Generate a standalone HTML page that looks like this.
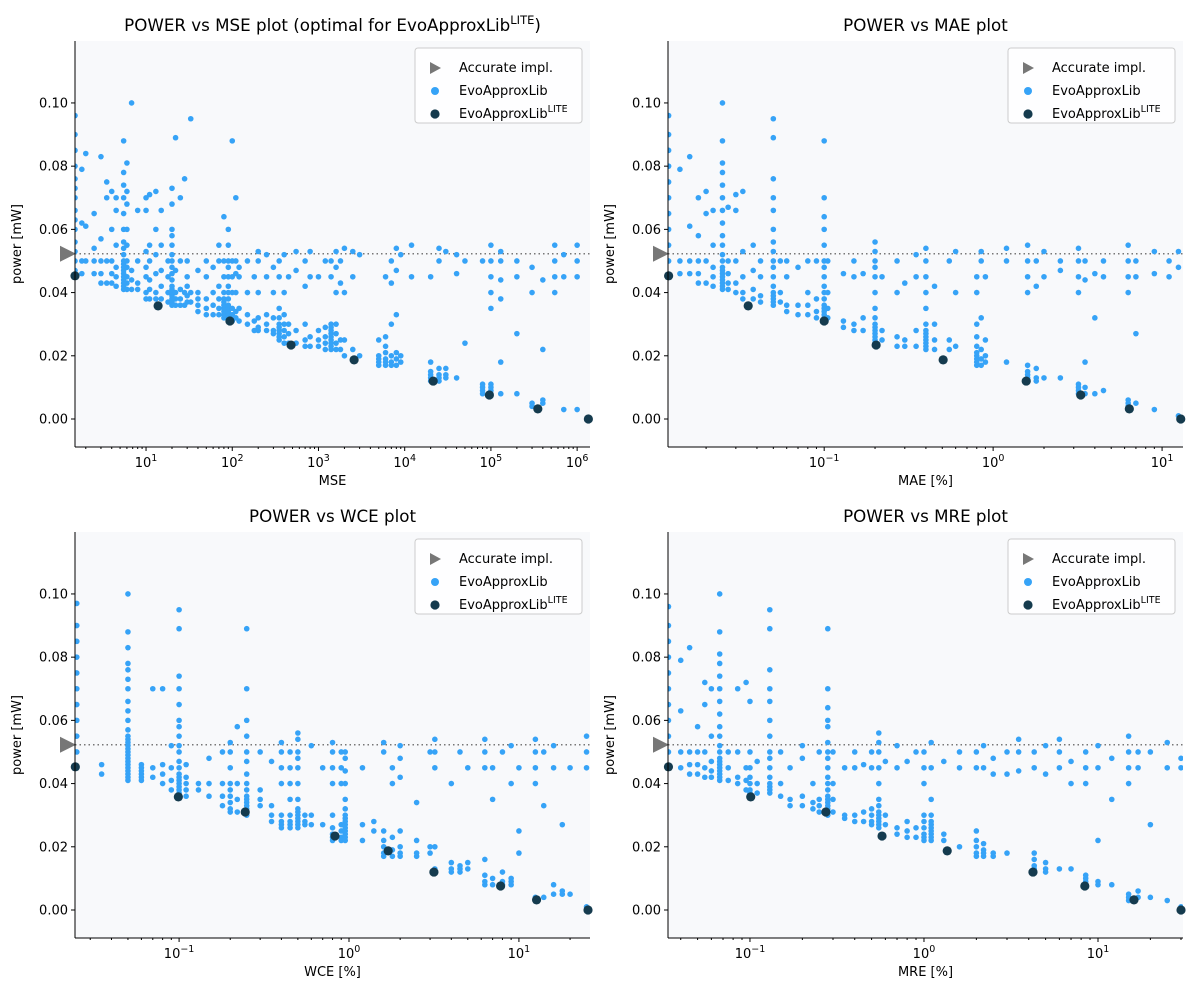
<!DOCTYPE html>
<html><head><meta charset="utf-8">
<style>
body{margin:0;background:#fff;}
svg text{font-family:"DejaVu Sans","Liberation Sans",sans-serif;fill:#000;}
</style></head>
<body>
<svg id="chart" width="1200" height="1000" xmlns="http://www.w3.org/2000/svg"></svg>
<script>
// ---- data (y in mW) ----
const accuratePower = 0.0523;
const yTicks = [0.00, 0.02, 0.04, 0.06, 0.08, 0.10];

const blueMSE = [[1.5,[0.045,0.047,0.05,0.053,0.056,0.06,0.063,0.066,0.07,0.073,0.076,0.08,0.085,0.09,0.096]],[1.8,[0.046,0.05,0.062,0.079]],[2,[0.05,0.084,0.061]],[2.5,[0.046,0.05,0.054,0.065]],[3,[0.043,0.046,0.05,0.057,0.083]],[3.5,[0.043,0.05,0.07,0.075]],[4,[0.043,0.046,0.05,0.06,0.072]],[4.5,[0.042,0.045,0.048,0.055,0.066,0.07]],[5.5,[0.041,0.042,0.043,0.044,0.045,0.046,0.047,0.048,0.049,0.05,0.052,0.054,0.056,0.06,0.065,0.07,0.074,0.078,0.088]],[6,[0.041,0.043,0.045,0.048,0.05,0.055,0.06,0.068,0.072,0.081]],[6.8,[0.041,0.044,0.047,0.1]],[8,[0.041,0.043,0.05,0.066]],[10,[0.038,0.04,0.045,0.048,0.053,0.066,0.07]],[11,[0.038,0.041,0.044,0.05,0.055,0.071]],[13,[0.038,0.04,0.046,0.052,0.06,0.072]],[15,[0.038,0.042,0.047,0.055,0.066]],[18,[0.037,0.04,0.045,0.05]],[20,[0.036,0.037,0.038,0.039,0.04,0.041,0.042,0.044,0.046,0.048,0.05,0.052,0.055,0.058,0.06,0.068,0.073]],[22,[0.036,0.038,0.04,0.047,0.089]],[25,[0.036,0.038,0.041,0.05,0.07]],[28,[0.036,0.04,0.076]],[30,[0.037,0.039,0.042,0.045,0.05]],[33,[0.037,0.04,0.095]],[40,[0.034,0.036,0.038,0.04,0.047]],[50,[0.033,0.035,0.038,0.045,0.05]],[60,[0.033,0.036,0.04,0.048]],[70,[0.033,0.035,0.038,0.042,0.05,0.055]],[80,[0.032,0.033,0.034,0.035,0.036,0.037,0.038,0.04,0.045,0.05,0.064]],[90,[0.031,0.032,0.033,0.034,0.035,0.036,0.038,0.04,0.042,0.045,0.048,0.05,0.055,0.06]],[100,[0.031,0.033,0.035,0.04,0.045,0.05,0.088]],[110,[0.032,0.034,0.04,0.046,0.05,0.07]],[120,[0.031,0.035,0.045,0.048]],[150,[0.03,0.033,0.04,0.05]],[180,[0.028,0.031,0.045]],[200,[0.028,0.029,0.032,0.04,0.05,0.053]],[250,[0.028,0.03,0.033,0.045,0.052]],[300,[0.027,0.028,0.032,0.04,0.048]],[350,[0.025,0.026,0.027,0.028,0.029,0.03,0.032,0.035,0.045,0.05]],[400,[0.024,0.026,0.028,0.03,0.033,0.04,0.052]],[450,[0.024,0.027,0.03,0.045]],[550,[0.024,0.028,0.047,0.053]],[700,[0.023,0.025,0.03,0.042,0.05]],[800,[0.023,0.026,0.045,0.053]],[1000,[0.023,0.025,0.028,0.045]],[1200,[0.022,0.024,0.026,0.029,0.05]],[1400,[0.022,0.023,0.024,0.025,0.026,0.027,0.028,0.029,0.03,0.045,0.05]],[1600,[0.022,0.024,0.027,0.03,0.04,0.048,0.053]],[1800,[0.022,0.025,0.043,0.05]],[2000,[0.02,0.025,0.04,0.054]],[2500,[0.019,0.022,0.045,0.053]],[3000,[0.02,0.052]],[5000,[0.017,0.018,0.019,0.02,0.025]],[6000,[0.017,0.018,0.019,0.021,0.023,0.026,0.045]],[7000,[0.017,0.018,0.02,0.03,0.043,0.05]],[8000,[0.017,0.019,0.021,0.033,0.047,0.054]],[9000,[0.018,0.02,0.052]],[12000,[0.045,0.055]],[20000,[0.012,0.013,0.014,0.015,0.018,0.045]],[25000,[0.012,0.013,0.014,0.016,0.05,0.054]],[30000,[0.013,0.014,0.016,0.053]],[40000,[0.013,0.046,0.052]],[50000,[0.024,0.05]],[80000,[0.008,0.009,0.01,0.011,0.05]],[100000,[0.008,0.009,0.01,0.011,0.035,0.04,0.045,0.05,0.055]],[130000,[0.008,0.018,0.038,0.044,0.05,0.053]],[200000,[0.008,0.027,0.045,0.05]],[300000,[0.004,0.005,0.04,0.048]],[400000,[0.005,0.006,0.022,0.044]],[550000,[0.04,0.045,0.05,0.055]],[700000,[0.003,0.045,0.052]],[1000000,[0.045,0.05,0.055,0.003]]];
const liteMSE = [[1.5,0.0453],[13.8,0.0358],[94,0.031],[481,0.0234],[2590,0.0187],[21400,0.012],[96000,0.0076],[350000,0.0032],[1350000,0]];

const blueMAE = [[0.012,[0.045,0.05,0.055,0.06,0.065,0.07,0.075,0.08,0.085,0.09,0.096]],[0.014,[0.046,0.05,0.079]],[0.016,[0.046,0.05,0.061,0.083]],[0.018,[0.043,0.046,0.05,0.058,0.07]],[0.02,[0.043,0.05,0.065,0.072]],[0.022,[0.042,0.045,0.048,0.055,0.066]],[0.025,[0.041,0.042,0.043,0.044,0.045,0.046,0.047,0.048,0.05,0.052,0.055,0.058,0.062,0.066,0.07,0.074,0.078,0.081,0.088,0.1]],[0.027,[0.041,0.043,0.046,0.05,0.067]],[0.03,[0.04,0.043,0.05,0.066,0.071]],[0.033,[0.038,0.04,0.045,0.053,0.072]],[0.038,[0.038,0.041,0.047,0.055]],[0.042,[0.037,0.039,0.045,0.05]],[0.05,[0.036,0.037,0.038,0.039,0.04,0.042,0.045,0.048,0.05,0.053,0.056,0.06,0.066,0.07,0.076,0.089,0.095]],[0.055,[0.037,0.04,0.05]],[0.06,[0.034,0.036,0.045,0.05]],[0.07,[0.033,0.036,0.048]],[0.08,[0.033,0.036,0.04,0.05]],[0.09,[0.032,0.034,0.038,0.05]],[0.1,[0.031,0.032,0.033,0.034,0.035,0.036,0.038,0.04,0.042,0.045,0.048,0.05,0.055,0.06,0.064,0.07,0.088]],[0.105,[0.032,0.035,0.04,0.05]],[0.13,[0.029,0.031,0.046]],[0.15,[0.028,0.03,0.045,0.05]],[0.17,[0.028,0.032,0.046]],[0.2,[0.024,0.025,0.026,0.027,0.028,0.029,0.03,0.032,0.035,0.04,0.045,0.048,0.05,0.053,0.056]],[0.22,[0.025,0.028,0.045]],[0.27,[0.023,0.026,0.04,0.05]],[0.3,[0.023,0.025,0.043]],[0.35,[0.023,0.028,0.045,0.052]],[0.4,[0.022,0.023,0.024,0.025,0.026,0.027,0.028,0.03,0.035,0.04,0.045,0.05,0.054]],[0.45,[0.022,0.025,0.03,0.042]],[0.55,[0.022,0.025,0.05]],[0.6,[0.023,0.04,0.053]],[0.8,[0.017,0.018,0.019,0.02,0.021,0.023,0.026,0.03,0.04,0.045]],[0.85,[0.017,0.019,0.022,0.032,0.05,0.053]],[0.9,[0.018,0.02,0.025,0.045]],[1.2,[0.018,0.05,0.054]],[1.6,[0.012,0.013,0.014,0.015,0.017,0.04,0.045,0.05,0.055]],[1.8,[0.012,0.013,0.016,0.042,0.05]],[2,[0.013,0.045,0.053]],[2.5,[0.013,0.047,0.05]],[3.2,[0.008,0.009,0.01,0.011,0.04,0.045,0.05,0.054]],[3.5,[0.008,0.01,0.018,0.044,0.05]],[4,[0.008,0.032,0.046]],[4.5,[0.009,0.045,0.05]],[6.3,[0.003,0.004,0.005,0.006,0.04,0.045,0.05,0.055]],[7,[0.005,0.027,0.045,0.05]],[9,[0.003,0.046,0.053]],[11,[0.045,0.05]],[12.5,[0.001,0.048,0.053]]];
const liteMAE = [[0.012,0.0453],[0.0355,0.0358],[0.1,0.031],[0.203,0.0234],[0.506,0.0187],[1.57,0.012],[3.3,0.0076],[6.4,0.0032],[12.9,0]];

const blueWCE = [[0.025,[0.045,0.05,0.055,0.06,0.065,0.07,0.075,0.08,0.085,0.09,0.097]],[0.035,[0.043,0.046]],[0.05,[0.041,0.042,0.043,0.044,0.045,0.046,0.047,0.048,0.049,0.05,0.051,0.052,0.053,0.054,0.055,0.057,0.06,0.063,0.066,0.07,0.073,0.076,0.078,0.083,0.088,0.1]],[0.06,[0.041,0.042,0.043,0.044,0.045,0.046]],[0.07,[0.042,0.045,0.07]],[0.08,[0.04,0.043,0.046,0.07]],[0.09,[0.038,0.041,0.045,0.052]],[0.1,[0.036,0.037,0.038,0.039,0.04,0.041,0.042,0.043,0.045,0.047,0.05,0.052,0.055,0.058,0.06,0.065,0.07,0.074,0.089,0.095]],[0.11,[0.036,0.038,0.04,0.042,0.046]],[0.13,[0.038,0.04]],[0.15,[0.036,0.04,0.048]],[0.18,[0.033,0.036,0.04,0.05]],[0.2,[0.031,0.032,0.034,0.036,0.038,0.04,0.045,0.05,0.053]],[0.22,[0.031,0.035,0.04,0.058]],[0.25,[0.03,0.031,0.032,0.033,0.034,0.035,0.036,0.038,0.04,0.043,0.047,0.05,0.055,0.06,0.07,0.089]],[0.3,[0.033,0.035,0.038,0.05]],[0.35,[0.028,0.03,0.033,0.047]],[0.4,[0.026,0.027,0.028,0.03,0.04,0.045,0.05,0.053]],[0.45,[0.026,0.027,0.028,0.03,0.035,0.04,0.045,0.05]],[0.5,[0.026,0.027,0.028,0.029,0.03,0.031,0.032,0.035,0.04,0.045,0.048,0.05,0.054,0.056]],[0.55,[0.027,0.028,0.03]],[0.6,[0.027,0.03,0.052]],[0.7,[0.027,0.045]],[0.8,[0.022,0.023,0.024,0.026,0.03,0.04,0.045,0.05,0.053]],[0.9,[0.022,0.023,0.025,0.027,0.04,0.045,0.05]],[0.95,[0.022,0.023,0.024,0.025,0.026,0.027,0.028,0.029,0.03,0.032,0.035,0.04,0.044,0.048,0.05]],[1.2,[0.022,0.027,0.045]],[1.4,[0.025,0.028]],[1.6,[0.017,0.018,0.02,0.022,0.025,0.05,0.053]],[1.8,[0.017,0.019,0.023,0.04,0.045]],[2,[0.017,0.018,0.02,0.025,0.042,0.048,0.052]],[2.5,[0.017,0.018,0.022,0.034]],[3,[0.018,0.02,0.05]],[3.2,[0.012,0.013,0.02,0.045,0.05,0.054]],[4,[0.012,0.013,0.015,0.04]],[4.5,[0.012,0.013,0.014,0.05]],[5,[0.013,0.015,0.045]],[6.3,[0.008,0.009,0.011,0.016,0.045,0.05,0.054]],[7,[0.008,0.01,0.035,0.045]],[8,[0.008,0.009,0.012,0.05]],[9,[0.008,0.009,0.01,0.04,0.052]],[10,[0.018,0.025,0.045]],[12.5,[0.003,0.004,0.04,0.045,0.05,0.054]],[14,[0.004,0.033,0.05]],[16,[0.005,0.008,0.045,0.052]],[18,[0.005,0.006,0.027]],[20,[0.005,0.045]],[25,[0.001,0.045,0.05,0.055]]];
const liteWCE = [[0.0245,0.0453],[0.099,0.0358],[0.245,0.031],[0.827,0.0234],[1.7,0.0187],[3.16,0.012],[7.8,0.0076],[12.7,0.0032],[25.5,0]];

const blueMRE = [[0.034,[0.045,0.05,0.055,0.06,0.065,0.07,0.075,0.08,0.085,0.09,0.096]],[0.04,[0.045,0.05,0.063,0.079]],[0.045,[0.043,0.046,0.05,0.083]],[0.05,[0.043,0.046,0.05,0.058]],[0.055,[0.042,0.045,0.05,0.065,0.072]],[0.06,[0.042,0.044,0.047,0.055,0.07]],[0.067,[0.041,0.042,0.043,0.044,0.045,0.046,0.047,0.048,0.05,0.052,0.055,0.058,0.062,0.066,0.07,0.074,0.078,0.081,0.088,0.1]],[0.075,[0.041,0.045,0.05]],[0.085,[0.04,0.042,0.05,0.07]],[0.095,[0.038,0.041,0.045,0.072]],[0.1,[0.037,0.038,0.04,0.042,0.045,0.05,0.066]],[0.11,[0.037,0.04,0.047]],[0.13,[0.037,0.038,0.039,0.04,0.042,0.045,0.048,0.05,0.055,0.06,0.066,0.07,0.076,0.089,0.095]],[0.15,[0.036,0.04,0.05]],[0.17,[0.033,0.035,0.045]],[0.2,[0.033,0.036,0.048,0.052]],[0.23,[0.032,0.034,0.04]],[0.25,[0.031,0.033,0.035,0.05]],[0.28,[0.03,0.031,0.032,0.033,0.034,0.035,0.036,0.038,0.04,0.042,0.045,0.048,0.05,0.053,0.058,0.06,0.064,0.07,0.089]],[0.3,[0.031,0.035,0.04,0.05]],[0.35,[0.029,0.03,0.045]],[0.4,[0.028,0.03,0.045,0.05]],[0.45,[0.028,0.031,0.046]],[0.5,[0.027,0.028,0.03,0.032,0.045,0.05]],[0.55,[0.026,0.027,0.028,0.029,0.03,0.031,0.033,0.035,0.04,0.045,0.05,0.053,0.056]],[0.6,[0.027,0.03,0.047]],[0.7,[0.024,0.026,0.045,0.052]],[0.8,[0.023,0.025,0.028,0.047]],[0.9,[0.023,0.026,0.05]],[1,[0.022,0.023,0.024,0.026,0.028,0.03,0.04,0.045,0.05]],[1.1,[0.022,0.023,0.024,0.025,0.026,0.027,0.028,0.03,0.035,0.045,0.053]],[1.3,[0.022,0.024,0.047]],[1.6,[0.02,0.045,0.05]],[2,[0.017,0.018,0.02,0.022,0.025,0.045,0.05]],[2.2,[0.017,0.018,0.019,0.021,0.045,0.052]],[2.5,[0.017,0.018,0.043,0.048]],[3,[0.018,0.043,0.05]],[3.5,[0.044,0.05,0.054]],[4.3,[0.012,0.013,0.014,0.016,0.018,0.045,0.05]],[5,[0.012,0.013,0.015,0.043,0.052]],[6,[0.013,0.045,0.05,0.054]],[7,[0.013,0.04,0.047]],[8.5,[0.008,0.009,0.01,0.011,0.04,0.045,0.05]],[10,[0.008,0.009,0.022,0.045,0.052]],[12,[0.008,0.035,0.048]],[15,[0.003,0.004,0.005,0.04,0.045,0.05,0.055]],[17,[0.004,0.006,0.045,0.05]],[20,[0.004,0.027,0.05]],[25,[0.003,0.045,0.053]],[30,[0.001,0.045,0.048]]];
const liteMRE = [[0.034,0.0453],[0.101,0.0358],[0.273,0.031],[0.574,0.0234],[1.36,0.0187],[4.23,0.012],[8.4,0.0076],[16.1,0.0032],[30.0,0]];

const panels = [
 {name:'mse',title:'POWER vs MSE plot (optimal for EvoApproxLib',lite:true,xlabel:'MSE',left:75,top:41,xmin:1.5,xmax:1.41e6,blue:blueMSE,dark:liteMSE,dmin:1,dmax:6},
 {name:'mae',title:'POWER vs MAE plot',xlabel:'MAE [%]',left:668,top:41,xmin:0.0119,xmax:13.3,blue:blueMAE,dark:liteMAE,dmin:-1,dmax:1},
 {name:'wce',title:'POWER vs WCE plot',xlabel:'WCE [%]',left:75,top:532,xmin:0.0244,xmax:26.2,blue:blueWCE,dark:liteWCE,dmin:-1,dmax:1},
 {name:'mre',title:'POWER vs MRE plot',xlabel:'MRE [%]',left:668,top:532,xmin:0.0338,xmax:30.8,blue:blueMRE,dark:liteMRE,dmin:-1,dmax:1}
];
const W=515,H=406,YMIN=-0.00886,YMAX=0.1196;
const NS='http://www.w3.org/2000/svg';
const svg=document.getElementById('chart');
function mk(tag,attrs,parent){const e=document.createElementNS(NS,tag);for(const k in attrs)e.setAttribute(k,attrs[k]);(parent||svg).appendChild(e);return e;}

panels.forEach(p=>{
  const g=mk('g',{});
  
  
  const L=p.left,T=p.top;
  const lx0=Math.log10(p.xmin),lx1=Math.log10(p.xmax);
  const sx=v=>L+(Math.log10(v)-lx0)/(lx1-lx0)*W;
  const sy=v=>T+H-(v-YMIN)/(YMAX-YMIN)*H;
  const bg=mk('rect',{x:L,y:T,width:W,height:H,fill:'#f8f9fb'},g);
  
  
  const cid='clip-'+p.name;
  const cp=mk('clipPath',{id:cid},g);mk('rect',{x:L,y:T,width:W,height:H},cp);
  const rl=mk('line',{x1:L,x2:L+W,y1:sy(accuratePower),y2:sy(accuratePower),stroke:'#777','stroke-width':1.5,'stroke-dasharray':'1.5,3'},g);
  
  
  const pts=mk('g',{'clip-path':'url(#'+cid+')'},g);
  p.blue.forEach(c=>c[1].forEach(y=>{
    const c1=mk('circle',{cx:sx(c[0]),cy:sy(y),r:2.8,fill:'#36a3f7'},pts);
    
    
  }));
  p.dark.forEach(d=>{
    const c2=mk('circle',{cx:sx(d[0]),cy:sy(d[1]),r:4.6,fill:'#153b4e'},g);
    
    
  });
  const ty=sy(accuratePower);
  const tri=mk('polygon',{points:`${L-15},${ty-8} ${L+1},${ty} ${L-15},${ty+8}`,fill:'#777'},g);
  
  
  mk('line',{x1:L,x2:L,y1:T,y2:T+H,stroke:'#000','stroke-width':1},g);
  mk('line',{x1:L,x2:L+W,y1:T+H,y2:T+H,stroke:'#000','stroke-width':1},g);
  yTicks.forEach(v=>{const y=sy(v);mk('line',{x1:L-4,x2:L,y1:y,y2:y,stroke:'#000'},g);
    const t=mk('text',{x:L-7,y:y+4.5,'text-anchor':'end','font-size':13},g);t.textContent=v.toFixed(2);
    
    });
  for(let d=p.dmin-1;d<=p.dmax+1;d++){
    for(let m=1;m<10;m++){const v=m*Math.pow(10,d);if(v<p.xmin||v>p.xmax)continue;const x=sx(v);
      mk('line',{x1:x,x2:x,y1:T+H,y2:T+H+(m==1?4:2),stroke:'#000'},g);
      if(m==1){const t=mk('text',{x:x,y:T+H+20,'text-anchor':'middle','font-size':13},g);
        
        
        const a=mk('tspan',{},t);a.textContent='10';const b=mk('tspan',{dy:-6,'font-size':9.5},t);b.textContent=(d<0?'\u2212':'')+Math.abs(d);}
    }
  }
  const xl=mk('text',{x:L+W/2,y:T+H+38,'text-anchor':'middle','font-size':13},g);xl.textContent=p.xlabel;
  
  
  const yl=mk('text',{x:0,y:0,'text-anchor':'middle','font-size':13,transform:`translate(${L-54},${T+H/2}) rotate(-90)`},g);yl.textContent='power [mW]';
  
  
  const tt=mk('text',{x:L+W/2,y:T-10,'text-anchor':'middle','font-size':16.7},g);
  
  
  const t1=mk('tspan',{},tt);t1.textContent=p.title;
  if(p.lite){const s=mk('tspan',{dy:-7,'font-size':11.5},tt);s.textContent='LITE';const e=mk('tspan',{dy:7},tt);e.textContent=')';}
  const lg=mk('g',{},g);
  
  
  const bx=L+W-175,by=T+7;
  mk('rect',{x:bx,y:by,width:167,height:75,rx:3,fill:'#fff','fill-opacity':0.85,stroke:'#ccc'},lg);
  mk('polygon',{points:`${bx+15},${by+14} ${bx+26},${by+20} ${bx+15},${by+26}`,fill:'#777'},lg);
  mk('circle',{cx:bx+20,cy:by+43,r:4,fill:'#36a3f7'},lg);
  mk('circle',{cx:bx+20,cy:by+66,r:4.6,fill:'#153b4e'},lg);
  const e1=mk('text',{x:bx+44,y:by+24,'font-size':13},lg);e1.textContent='Accurate impl.';
  const e2=mk('text',{x:bx+44,y:by+47,'font-size':13},lg);e2.textContent='EvoApproxLib';
  const e3=mk('text',{x:bx+44,y:by+70,'font-size':13},lg);
  const e3a=mk('tspan',{},e3);e3a.textContent='EvoApproxLib';
  const e3b=mk('tspan',{dy:-6,'font-size':9.5},e3);e3b.textContent='LITE';
  [e1,e2,e3].forEach(e=>{});
});
</script>
</body></html>
